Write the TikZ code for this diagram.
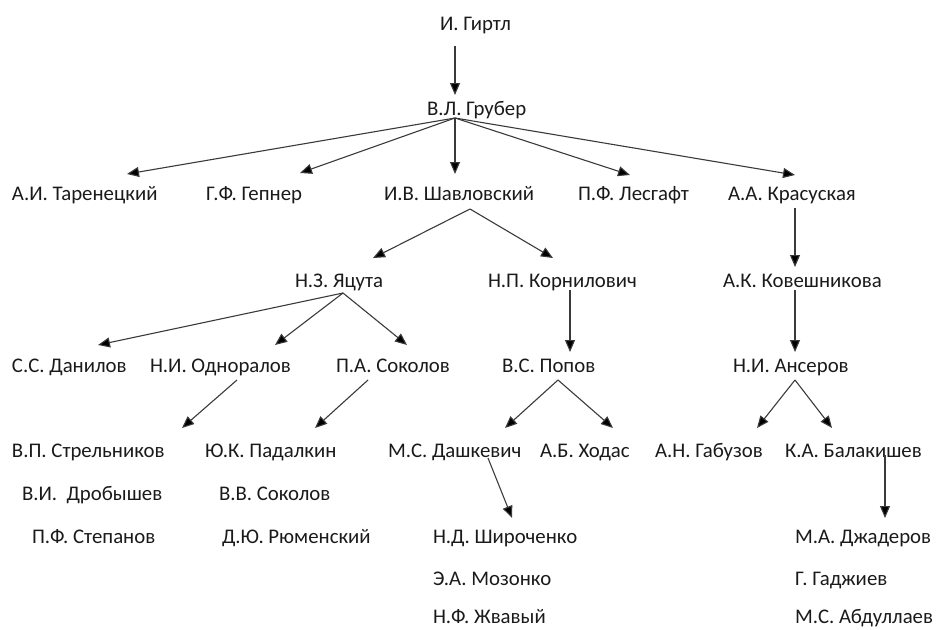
\documentclass[tikz,border=0pt]{standalone}
\usepackage{fontspec}
\setmainfont{Carlito}
\usetikzlibrary{arrows.meta,calc}
\definecolor{txt}{HTML}{1A1A1A}
\definecolor{ln}{HTML}{3A3A3A}
\tikzset{
  nm/.style={anchor=base west,inner sep=0pt,outer sep=0pt,text=txt,font=\fontsize{20.8}{24}\selectfont},
  arr/.style={draw=ln,line width=1.1pt,-{Triangle[length=12pt,width=10pt,fill=black]}}
}
\begin{document}
\begin{tikzpicture}[x=1pt,y=-1pt]
\useasboundingbox (0,0) rectangle (939,629);
% row 1-2
\node[nm] (gir) at (440,30) {И. Гиртл};
\node[nm] (grub) at (427,115) {В.Л. Грубер};
% row 3
\node[nm] (tar) at (12,200) {А.И. Таренецкий};
\node[nm] (gep) at (206,200) {Г.Ф. Гепнер};
\node[nm] (shav) at (384,200) {И.В. Шавловский};
\node[nm] (les) at (578,200) {П.Ф. Лесгафт};
\node[nm] (kras) at (728,200) {А.А. Красуская};
% row 4
\node[nm] (yac) at (295,287) {Н.З. Яцута};
\node[nm] (korn) at (488,287) {Н.П. Корнилович};
\node[nm] (kov) at (723,287) {А.К. Ковешникова};
% row 5
\node[nm] (dan) at (12,372) {С.С. Данилов};
\node[nm] (odn) at (150,372) {Н.И. Одноралов};
\node[nm] (sok) at (336,372) {П.А. Соколов};
\node[nm] (pop) at (502,372) {В.С. Попов};
\node[nm] (ans) at (733,372) {Н.И. Ансеров};
% row 6
\node[nm] (str) at (12,457) {В.П. Стрельников};
\node[nm] (pad) at (205,457) {Ю.К. Падалкин};
\node[nm] (dash) at (388,457) {М.С. Дашкевич};
\node[nm] (hod) at (540,457) {А.Б. Ходас};
\node[nm] (gab) at (655,457) {А.Н. Габузов};
\node[nm] (bal) at (785,457) {К.А. Балакишев};
% row 7
\node[nm] (drob) at (22,500) {В.И.\ \ Дробышев};
\node[nm] (vvs) at (219,500) {В.В. Соколов};
% row 8
\node[nm] (step) at (32,543) {П.Ф. Степанов};
\node[nm] (rum) at (222,543) {Д.Ю. Рюменский};
\node[nm] (shir) at (433,543) {Н.Д. Широченко};
\node[nm] (dzh) at (795,543) {М.А. Джадеров};
% row 9-10
\node[nm] (moz) at (433,585) {Э.А. Мозонко};
\node[nm] (gad) at (795,585) {Г. Гаджиев};
\node[nm] (zhv) at (433,623) {Н.Ф. Жвавый};
\node[nm] (abd) at (795,623) {М.С. Абдуллаев};
% arrows
\draw[arr] ($(gir.base west)+(15,16)$) -- ($(grub.base west)+(28,-20)$);
\coordinate (gf) at ($(grub.base west)+(28,3)$);
\draw[arr] (gf) -- ($(tar.base west)+(115,-26)$);
\draw[arr] (gf) -- ($(gep.base west)+(94,-27)$);
\draw[arr] (gf) -- ($(shav.base west)+(71,-26)$);
\draw[arr] (gf) -- ($(les.base west)+(52,-25)$);
\draw[arr] (gf) -- ($(kras.base west)+(67,-25)$);
\coordinate (sf) at ($(shav.base west)+(86,9)$);
\draw[arr] (sf) -- ($(yac.base west)+(78,-29)$);
\draw[arr] (sf) -- ($(korn.base west)+(65,-29)$);
\draw[arr] ($(kras.base west)+(67,8)$) -- ($(kov.base west)+(72,-20)$);
\draw[arr] ($(korn.base west)+(82,3)$) -- ($(pop.base west)+(68,-20)$);
\draw[arr] ($(kov.base west)+(72,3)$) -- ($(ans.base west)+(62,-20)$);
\coordinate (yf) at ($(yac.base west)+(48,6)$);
\draw[arr] (yf) -- ($(dan.base west)+(86,-27)$);
\draw[arr] (yf) -- ($(odn.base west)+(125,-27)$);
\draw[arr] (yf) -- ($(sok.base west)+(71,-27)$);
\draw[arr] ($(odn.base west)+(87,8)$) -- ($(str.base west)+(170,-29)$);
\draw[arr] ($(sok.base west)+(32,8)$) -- ($(pad.base west)+(110,-29)$);
\coordinate (pf) at ($(pop.base west)+(56,8)$);
\draw[arr] (pf) -- ($(dash.base west)+(117,-29)$);
\draw[arr] (pf) -- ($(hod.base west)+(73,-29)$);
\coordinate (af) at ($(ans.base west)+(62,8)$);
\draw[arr] (af) -- ($(gab.base west)+(102,-29)$);
\draw[arr] (af) -- ($(bal.base west)+(47,-29)$);
\draw[arr] ($(dash.base west)+(100,1)$) -- ($(shir.base west)+(79,-25)$);
\draw[arr] ($(bal.base west)+(100,-2)$) -- ($(dzh.base west)+(90,-25)$);
\end{tikzpicture}
\end{document}
